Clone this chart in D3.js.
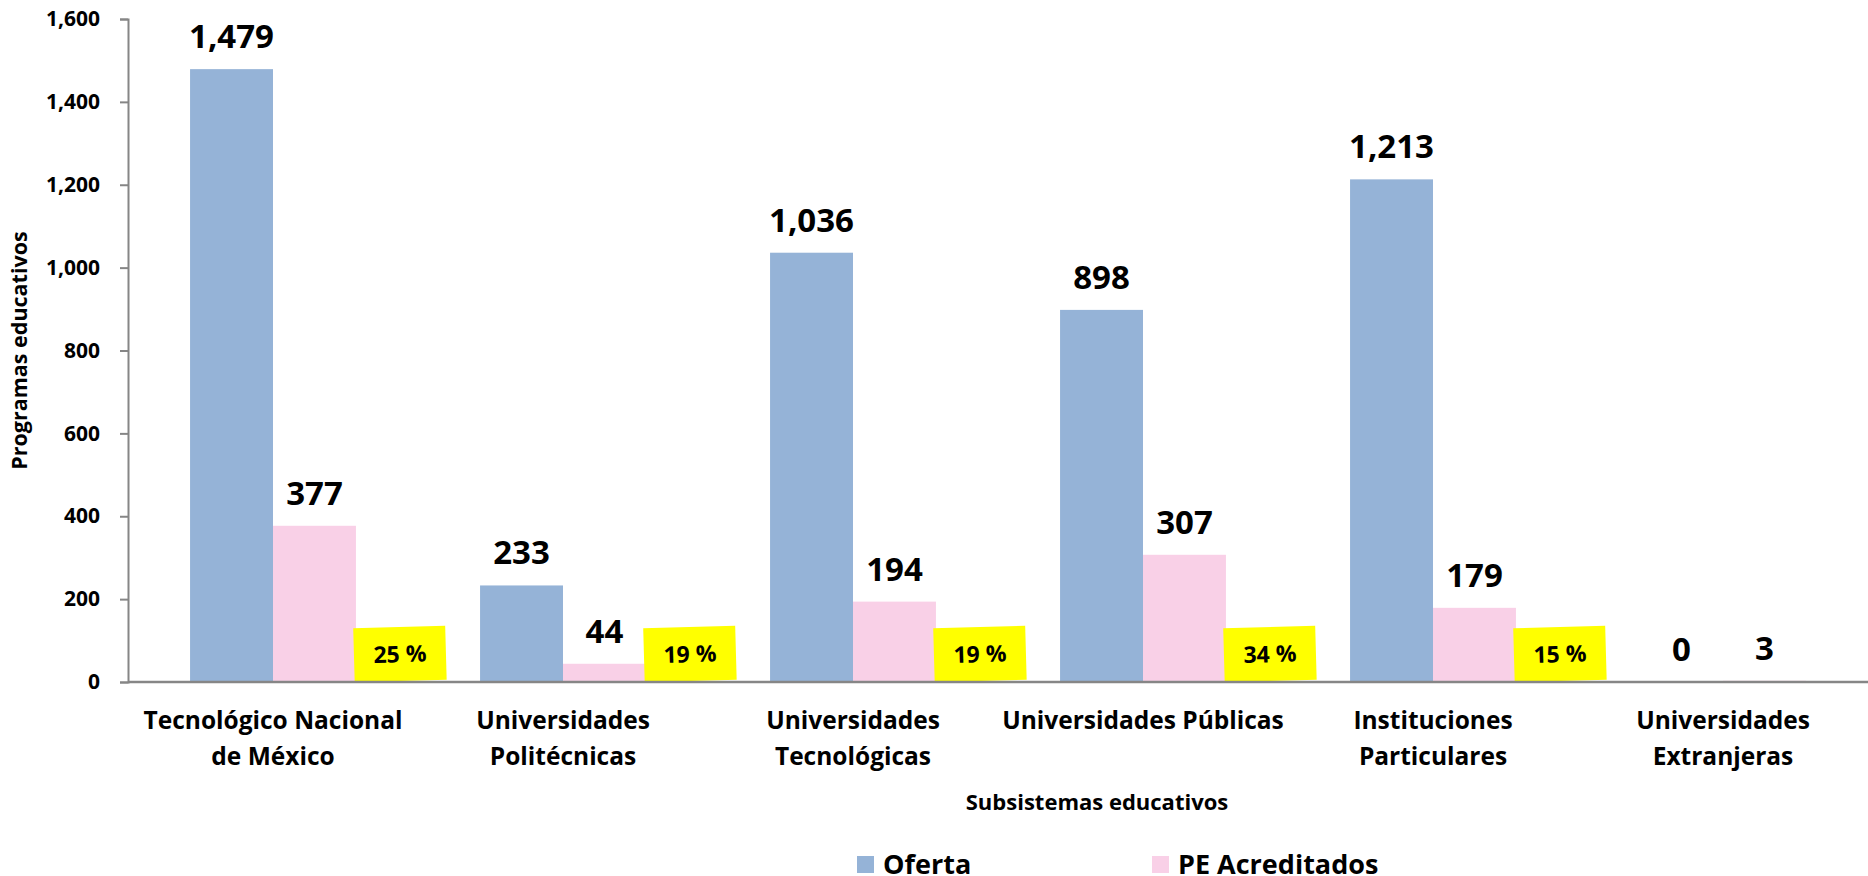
<!DOCTYPE html>
<html>
<head>
<meta charset="utf-8">
<script src="https://cdn.jsdelivr.net/npm/d3@7"></script>
<style>
  body { margin: 0; background: #fff; }
  svg { display: block; font-family: 'Open Sans', 'DejaVu Sans', sans-serif; font-weight: bold; }
</style>
</head>
<body>
<svg id="chart" width="1868" height="876"></svg>
<script>
const categories = [
  ['Tecnológico Nacional', 'de México'],
  ['Universidades', 'Politécnicas'],
  ['Universidades', 'Tecnológicas'],
  ['Universidades Públicas'],
  ['Instituciones', 'Particulares'],
  ['Universidades', 'Extranjeras']
]
const series = ['Oferta', 'PE Acreditados']
const oferta = [1479, 233, 1036, 898, 1213, 0]
const acreditados = [377, 44, 194, 307, 179, 3]
const porcentajes = ['25 %', '19 %', '19 %', '34 %', '15 %', null]
const yTicks = [0, 200, 400, 600, 800, 1000, 1200, 1400, 1600]
const colors = ['#95b3d7', '#f9d0e7']

const svg = d3.select('#chart')
const width = 1868
const height = 876
const margin = { top: 19, right: 0, bottom: 194, left: 128 }
const innerW = width - margin.left - margin.right
const innerH = height - margin.top - margin.bottom

const catKey = (d) => d.join(' ')
const data = categories.map((c, i) => ({ cat: catKey(c), lines: c, values: [oferta[i], acreditados[i]], pct: porcentajes[i] }))

const x0 = d3.scaleBand().domain(data.map((d) => d.cat)).range([0, innerW]).paddingInner(0.428).paddingOuter(0.214)
const x1 = d3.scaleBand().domain(series).range([0, x0.bandwidth()])
const y = d3.scaleLinear().domain([0, 1600]).range([innerH, 0])

const g = svg.append('g').attr('transform', `translate(${margin.left}, ${margin.top})`)

// y axis
const yAxis = g.append('g')
  .call(d3.axisLeft(y).tickValues(yTicks).tickFormat(d3.format(',')).tickSize(8).tickPadding(20))
yAxis.selectAll('path, line').attr('stroke', '#868686').attr('stroke-width', 2)
yAxis.selectAll('text').style('font-size', '21px').style('font-family', 'Open Sans').style('font-weight', 'bold').attr('fill', '#000')

// bars
const groups = g.selectAll('g.cat').data(data).enter().append('g')
  .attr('class', 'cat')
  .attr('transform', (d) => `translate(${x0(d.cat)}, 0)`)

groups.selectAll('rect').data((d) => d.values.map((v, i) => ({ key: series[i], v })))
  .enter().append('rect')
  .attr('x', (d) => x1(d.key))
  .attr('width', x1.bandwidth())
  .attr('y', (d) => y(d.v))
  .attr('height', (d) => innerH - y(d.v))
  .attr('fill', (d, i) => colors[i])

groups.selectAll('text.val').data((d) => d.values.map((v, i) => ({ key: series[i], v })))
  .enter().append('text')
  .attr('class', 'val')
  .attr('x', (d) => x1(d.key) + x1.bandwidth() / 2)
  .attr('y', (d) => y(d.v) - 21)
  .attr('text-anchor', 'middle')
  .style('font-size', '33px')
  .text((d) => d3.format(',')(d.v))

// yellow percentage boxes
const boxes = groups.filter((d) => d.pct).append('g')
  .attr('transform', () => `translate(${x1('PE Acreditados') + x1.bandwidth() + 44}, ${innerH - 28}) rotate(-1.6)`)
boxes.append('rect')
  .attr('x', -46).attr('y', -27).attr('width', 92).attr('height', 54)
  .attr('fill', '#ffff00')
boxes.append('text')
  .attr('text-anchor', 'middle')
  .attr('dy', '0.36em')
  .style('font-size', '23px')
  .text((d) => d.pct)

// x axis line
g.append('line')
  .attr('x1', 0).attr('x2', innerW)
  .attr('y1', innerH).attr('y2', innerH)
  .attr('stroke', '#868686').attr('stroke-width', 2.5)

// category labels
const labels = g.selectAll('text.cat').data(data).enter().append('text')
  .attr('class', 'cat')
  .attr('text-anchor', 'middle')
  .attr('x', (d) => x0(d.cat) + x0.bandwidth() / 2)
  .attr('y', innerH + 47)
  .style('font-size', '24.5px')
labels.selectAll('tspan').data((d) => d.lines).enter().append('tspan')
  .attr('x', function () { return d3.select(this.parentNode).attr('x') })
  .attr('dy', (d, i) => i === 0 ? 0 : 36)
  .text((d) => d)

// axis titles
svg.append('text')
  .attr('x', 1097).attr('y', 810)
  .attr('text-anchor', 'middle')
  .style('font-size', '22px')
  .text('Subsistemas educativos')

svg.append('text')
  .attr('transform', `translate(27, ${margin.top + innerH / 2}) rotate(-90)`)
  .attr('text-anchor', 'middle')
  .style('font-size', '21.5px')
  .text('Programas educativos')

// legend
const legendX = [857, 1152]
const legend = svg.selectAll('g.legend').data(series).enter().append('g')
  .attr('class', 'legend')
  .attr('transform', (d, i) => `translate(${legendX[i]}, 856)`)
legend.append('rect').attr('width', 17).attr('height', 17).attr('fill', (d, i) => colors[i])
legend.append('text').attr('x', 26).attr('y', 18).style('font-size', '27px').text((d) => d)
</script>
</body>
</html>
